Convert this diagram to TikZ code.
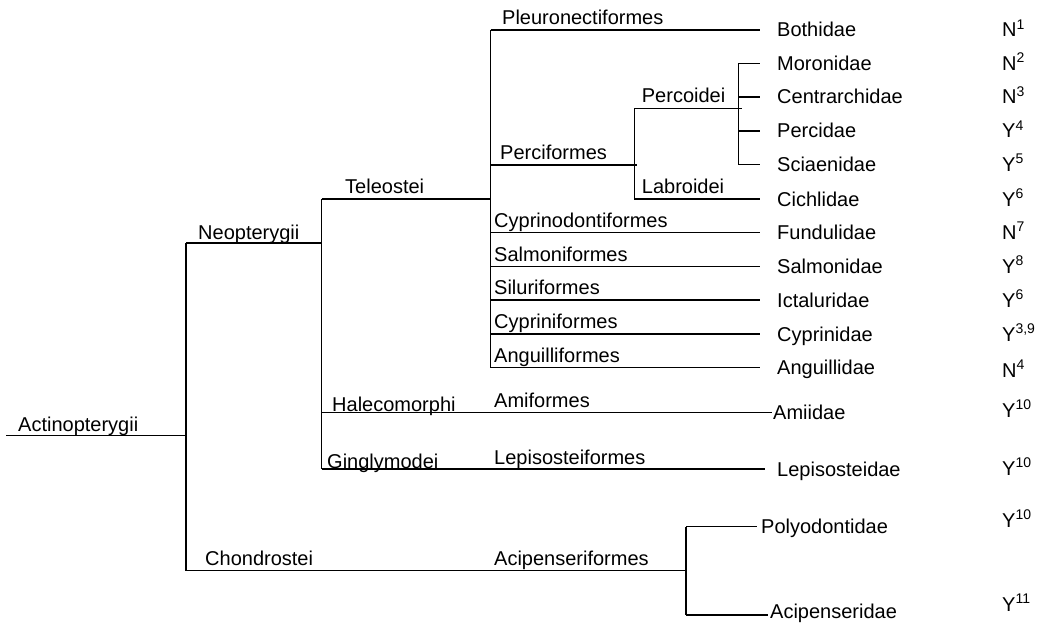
\documentclass[tikz,border=0pt]{standalone}
\usepackage{fontspec}
\setmainfont{Liberation Sans}
\begin{document}
\begin{tikzpicture}[x=1pt,y=-1pt,
  branch/.style={draw=black,line width=1.2pt},
  lbl/.style={anchor=base west,inner sep=0pt,font=\fontsize{20}{24}\selectfont},
  leafname/.style={lbl},
  status/.style={lbl}]
\useasboundingbox (0,0) rectangle (1041,623);

% ---------- junction coordinates ----------
\coordinate (root) at (6,435.7);
\coordinate (actJ) at (186,435.7);
\coordinate (actTop) at (186,243);
\coordinate (actBot) at (186,570.7);
\coordinate (neoJ) at (321.7,243);
\coordinate (neoTop) at (321.7,199);
\coordinate (neoBot) at (321.7,469);
\coordinate (halJ) at (321.7,412.7);
\coordinate (telJ) at (490.7,199);
\coordinate (telTop) at (490.7,30);
\coordinate (telBot) at (490.7,367.5);
\coordinate (perJ) at (490.7,165);
\coordinate (perE) at (637.3,165);
\coordinate (subTop) at (634.3,108.3);
\coordinate (subBot) at (634.3,199);
\coordinate (pcoE) at (741.7,108.3);
\coordinate (pcoTop) at (738.3,63.3);
\coordinate (pcoBot) at (738.3,164.3);
\coordinate (pcoCen) at (738.3,97);
\coordinate (pcoPer) at (738.3,131);
\coordinate (funJ) at (490.7,232.5);
\coordinate (salJ) at (490.7,266.5);
\coordinate (silJ) at (490.7,300);
\coordinate (cypJ) at (490.7,334);
\coordinate (acipJ) at (686,570.7);
\coordinate (acipTop) at (686,526.7);
\coordinate (acipBot) at (686,615);

% leaf line ends
\coordinate (eBoth) at (760,30);
\coordinate (eMoro) at (760,63.3);
\coordinate (eCent) at (760,97);
\coordinate (ePerc) at (760,131);
\coordinate (eScia) at (760,164.3);
\coordinate (eCich) at (760,199);
\coordinate (eFund) at (760,232.5);
\coordinate (eSalm) at (760,266.5);
\coordinate (eIcta) at (760,300);
\coordinate (eCypr) at (760,334);
\coordinate (eAngu) at (760,367.5);
\coordinate (eAmii) at (772,412.7);
\coordinate (eLepi) at (765,469);
\coordinate (ePoly) at (757,526.7);
\coordinate (eAcip) at (768,615);

% ---------- branches ----------
\draw[branch] (root) -- (actJ);
\draw[branch] (actTop) -- (actBot);
\draw[branch] (actTop) -- (neoJ);
\draw[branch] (neoTop) -- (neoBot);
\draw[branch] (neoTop) -- (telJ);
\draw[branch] (telTop) -- (telBot);
\draw[branch] (telTop) -- (eBoth);
\draw[branch] (perJ) -- (perE);
\draw[branch] (subTop) -- (subBot);
\draw[branch] (subTop) -- (pcoE);
\draw[branch] (pcoTop) -- (pcoBot);
\draw[branch] (pcoTop) -- (eMoro);
\draw[branch] (pcoCen) -- (eCent);
\draw[branch] (pcoPer) -- (ePerc);
\draw[branch] (pcoBot) -- (eScia);
\draw[branch] (subBot) -- (eCich);
\draw[branch] (funJ) -- (eFund);
\draw[branch] (salJ) -- (eSalm);
\draw[branch] (silJ) -- (eIcta);
\draw[branch] (cypJ) -- (eCypr);
\draw[branch] (telBot) -- (eAngu);
\draw[branch] (halJ) -- (eAmii);
\draw[branch] (neoBot) -- (eLepi);
\draw[branch] (actBot) -- (acipJ);
\draw[branch] (acipTop) -- (acipBot);
\draw[branch] (acipTop) -- (ePoly);
\draw[branch] (acipBot) -- (eAcip);

% ---------- internal labels ----------
\node[lbl] (tActi) at (18,431.5) {Actinopterygii};
\node[lbl] (tNeop) at (198,239) {Neopterygii};
\node[lbl] (tTele) at (345,193.5) {Teleostei};
\node[lbl] (tHale) at (332,411.5) {Halecomorphi};
\node[lbl] (tGing) at (327,468) {Ginglymodei};
\node[lbl] (tChon) at (205,565.5) {Chondrostei};
\node[lbl] (tPleu) at (502,25) {Pleuronectiformes};
\node[lbl] (tPerc) at (500,160) {Perciformes};
\node[lbl] (tPcoi) at (641.7,103) {Percoidei};
\node[lbl] (tLabr) at (641.7,193.5) {Labroidei};
\node[lbl] (tCypd) at (494,227) {Cyprinodontiformes};
\node[lbl] (tSalf) at (494,261) {Salmoniformes};
\node[lbl] (tSilf) at (494,294.5) {Siluriformes};
\node[lbl] (tCypf) at (494,328.5) {Cypriniformes};
\node[lbl] (tAngf) at (494,362) {Anguilliformes};
\node[lbl] (tAmif) at (494,407.5) {Amiformes};
\node[lbl] (tLepf) at (494,464.5) {Lepisosteiformes};
\node[lbl] (tAcif) at (494,565.5) {Acipenseriformes};

% ---------- leaf names ----------
\node[leafname] (lBoth) at (777,37) {Bothidae};
\node[leafname] (lMoro) at (777,70.3) {Moronidae};
\node[leafname] (lCent) at (777,104) {Centrarchidae};
\node[leafname] (lPerc) at (777,138) {Percidae};
\node[leafname] (lScia) at (777,171.3) {Sciaenidae};
\node[leafname] (lCich) at (777,206) {Cichlidae};
\node[leafname] (lFund) at (777,239.5) {Fundulidae};
\node[leafname] (lSalm) at (777,273.5) {Salmonidae};
\node[leafname] (lIcta) at (777,307) {Ictaluridae};
\node[leafname] (lCypr) at (777,341) {Cyprinidae};
\node[leafname] (lAngu) at (777,374.5) {Anguillidae};
\node[leafname] (lAmii) at (773,419.7) {Amiidae};
\node[leafname] (lLepi) at (777,476) {Lepisosteidae};
\node[leafname] (lPoly) at (761,533.7) {Polyodontidae};
\node[leafname] (lAcip) at (770,618.5) {Acipenseridae};

% ---------- status column ----------
\node[status] (sBoth) at (1002,37) {N\textsuperscript{1}};
\node[status] (sMoro) at (1002,70.3) {N\textsuperscript{2}};
\node[status] (sCent) at (1002,104) {N\textsuperscript{3}};
\node[status] (sPerc) at (1002,138) {Y\textsuperscript{4}};
\node[status] (sScia) at (1002,171.3) {Y\textsuperscript{5}};
\node[status] (sCich) at (1002,206) {Y\textsuperscript{6}};
\node[status] (sFund) at (1002,239.5) {N\textsuperscript{7}};
\node[status] (sSalm) at (1002,273.5) {Y\textsuperscript{8}};
\node[status] (sIcta) at (1002,307) {Y\textsuperscript{6}};
\node[status] (sCypr) at (1002,341) {Y\textsuperscript{3,9}};
\node[status] (sAngu) at (1002,377) {N\textsuperscript{4}};
\node[status] (sAmii) at (1002,417) {Y\textsuperscript{10}};
\node[status] (sLepi) at (1002,475.5) {Y\textsuperscript{10}};
\node[status] (sPoly) at (1002,527.5) {Y\textsuperscript{10}};
\node[status] (sAcip) at (1002,611) {Y\textsuperscript{11}};
\end{tikzpicture}
\end{document}
